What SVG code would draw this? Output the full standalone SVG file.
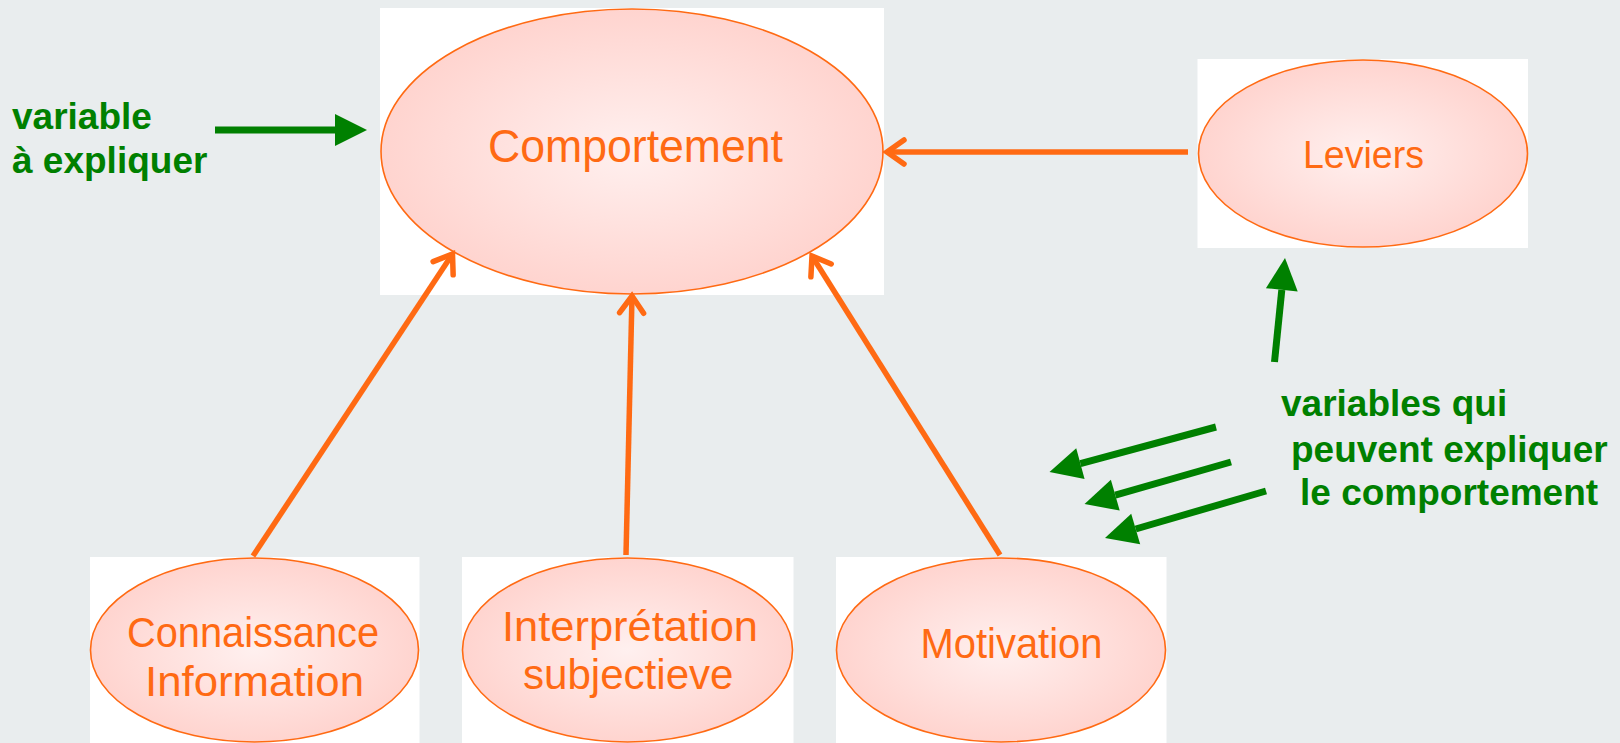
<svg xmlns="http://www.w3.org/2000/svg" width="1620" height="743" viewBox="0 0 1620 743">
<style>
.box{fill:#ffffff;stroke:none}
.ell{fill:url(#pink);stroke:#FF6A13;stroke-width:1.6}
.lbl{font-family:"Liberation Sans",Arial,sans-serif;fill:#FF6A13;text-anchor:start}
.gtx{font-family:"Liberation Sans",Arial,sans-serif;font-weight:bold;fill:#008000;font-size:37px}
.oline{stroke:#FF6A13;stroke-width:5.5;fill:none;marker-end:url(#ohead)}
.gline{stroke:#008000;stroke-width:7;fill:none;marker-end:url(#ghead)}
</style>
<defs>
<radialGradient id="pink" cx="50%" cy="50%" r="50%">
<stop offset="0" stop-color="#FFF0EF"/>
<stop offset="1" stop-color="#FFD4CF"/>
</radialGradient>
<marker id="ohead" markerUnits="userSpaceOnUse" viewBox="-24 -16 28 32" refX="0" refY="0" markerWidth="28" markerHeight="32" orient="auto" overflow="visible">
<path d="M-17,-12 L0,0 L-17,12" fill="none" stroke="#FF6A13" stroke-width="5.5" stroke-linecap="round" stroke-linejoin="miter"/>
</marker>
<marker id="ghead" markerUnits="userSpaceOnUse" viewBox="0 0 32 32" refX="0" refY="16" markerWidth="32" markerHeight="32" orient="auto" overflow="visible">
<path d="M0,0 L32,16 L0,32 Z" fill="#008000"/>
</marker>
</defs>
<rect width="1620" height="743" fill="#E9EDEE"/>

<g id="node-comportement">
<rect class="box" x="380" y="8" width="504" height="287"/>
<ellipse class="ell" cx="632" cy="151.5" rx="251" ry="142.5"/>
<text class="lbl" x="488" y="162" font-size="46" textLength="295" lengthAdjust="spacingAndGlyphs">Comportement</text>
</g>

<g id="node-leviers">
<rect class="box" x="1197.5" y="59" width="330.5" height="189"/>
<ellipse class="ell" cx="1363" cy="153.5" rx="164.5" ry="93.5"/>
<text class="lbl" x="1303" y="168" font-size="39" textLength="121" lengthAdjust="spacingAndGlyphs">Leviers</text>
</g>

<g id="node-connaissance">
<rect class="box" x="90" y="557" width="329.5" height="186"/>
<ellipse class="ell" cx="254.5" cy="650" rx="164" ry="92"/>
<text class="lbl" x="127" y="647" font-size="42" textLength="252" lengthAdjust="spacingAndGlyphs">Connaissance</text>
<text class="lbl" x="145" y="696" font-size="42" textLength="219" lengthAdjust="spacingAndGlyphs">Information</text>
</g>

<g id="node-interpretation">
<rect class="box" x="462" y="557" width="331.5" height="186"/>
<ellipse class="ell" cx="627.5" cy="650" rx="165" ry="92"/>
<text class="lbl" x="502" y="640.5" font-size="42" textLength="256" lengthAdjust="spacingAndGlyphs">Interprétation</text>
<text class="lbl" x="523" y="689" font-size="42" textLength="210.5" lengthAdjust="spacingAndGlyphs">subjectieve</text>
</g>

<g id="node-motivation">
<rect class="box" x="836" y="557" width="330.5" height="186"/>
<ellipse class="ell" cx="1001" cy="650" rx="164.5" ry="92"/>
<text class="lbl" x="920.5" y="658" font-size="42" textLength="182" lengthAdjust="spacingAndGlyphs">Motivation</text>
</g>

<g id="connectors">
<line class="oline" x1="1188" y1="152" x2="887" y2="152"/>
<line class="oline" x1="253" y1="556" x2="452.5" y2="254"/>
<line class="oline" x1="626" y1="555" x2="632" y2="296"/>
<line class="oline" x1="1000" y1="555" x2="812" y2="256"/>
<line class="gline" x1="215" y1="130" x2="335" y2="130"/>
<line class="gline" x1="1274.5" y1="362" x2="1281.8" y2="289.8"/>
<line class="gline" x1="1216" y1="427" x2="1080.4" y2="463.6"/>
<line class="gline" x1="1231" y1="462" x2="1115.3" y2="495.2"/>
<line class="gline" x1="1266" y1="491" x2="1135.7" y2="529"/>
</g>

<g id="annotations">
<text class="gtx" x="12" y="129">variable</text>
<text class="gtx" x="12" y="173">à expliquer</text>
<text class="gtx" x="1281" y="416">variables qui</text>
<text class="gtx" x="1291" y="462">peuvent expliquer</text>
<text class="gtx" x="1300" y="505">le comportement</text>
</g>
</svg>
